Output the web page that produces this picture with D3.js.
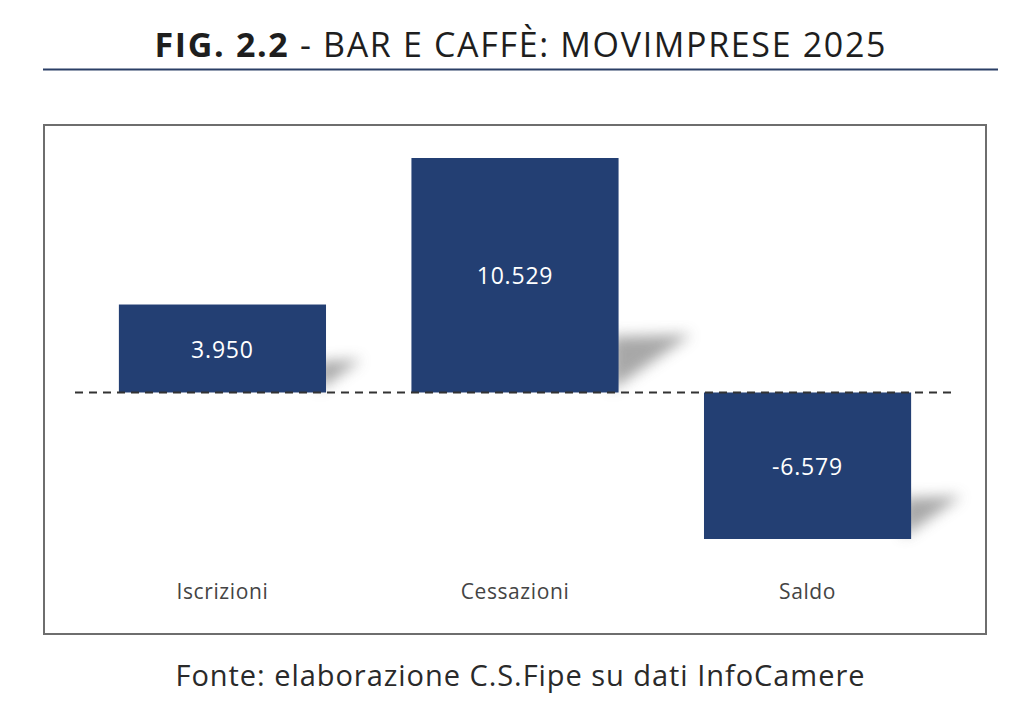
<!DOCTYPE html>
<html>
<head>
<meta charset="utf-8">
<script src="https://cdn.jsdelivr.net/npm/d3@7"></script>
<style>
  body { margin: 0; background: #fff; }
  svg { display: block; font-family: "Open Sans", "Noto Sans", sans-serif; }
</style>
</head>
<body>
<svg id="chart" width="1024" height="711"></svg>
<script>
const categories = ["Iscrizioni", "Cessazioni", "Saldo"];
const values = [3950, 10529, -6579];
const valueLabels = ["3.950", "10.529", "-6.579"];

const svg = d3.select("#chart");

// title
const title = svg.append("text")
  .attr("x", 520).attr("y", 57)
  .attr("text-anchor", "middle")
  .attr("font-size", 34)
  .attr("textLength", 731)
  .attr("lengthAdjust", "spacing")
  .attr("fill", "#1e1e1e");
title.append("tspan").attr("font-weight", 700).text("FIG. 2.2");
title.append("tspan").attr("font-weight", 400).text(" - BAR E CAFFÈ: MOVIMPRESE 2025");

svg.append("line") //rule under title
  .attr("x1", 43).attr("x2", 998)
  .attr("y1", 69.5).attr("y2", 69.5)
  .attr("stroke", "#2b3f66").attr("stroke-width", 2);

// frame
svg.append("rect")
  .attr("x", 44).attr("y", 125)
  .attr("width", 942).attr("height", 509)
  .attr("fill", "#fff")
  .attr("stroke", "#6e6e6e").attr("stroke-width", 2);

// shadow blur
const defs = svg.append("defs");
defs.append("filter").attr("id", "blur")
  .attr("x", "-50%").attr("y", "-50%").attr("width", "200%").attr("height", "200%")
  .append("feGaussianBlur").attr("stdDeviation", 7);

const x = d3.scaleBand()
  .domain(categories)
  .range([75, 955])
  .paddingInner(0.292)
  .paddingOuter(0.15);

const y = d3.scaleLinear()
  .domain([-6579, 10529])
  .range([539, 158]);

const data = categories.map((c, i) => ({ cat: c, v: values[i], label: valueLabels[i] }));

// shadows behind bars
svg.append("g").selectAll("path")
  .data(data)
  .enter()
  .append("path")
  .attr("fill", "#8a8a8a")
  .attr("opacity", 0.75)
  .attr("filter", "url(#blur)")
  .attr("d", d => {
    const h = Math.abs(y(d.v) - y(0));
    const hs = 14 + 0.17 * h;
    const ws = 1.5 * hs;
    const xr = x(d.cat) + x.bandwidth() - 8;
    const yb = Math.max(y(d.v), y(0)) - 2;
    return `M${xr},${yb - hs}L${xr + ws},${yb - hs - 2}L${xr},${yb}Z`;
  });

// bars
svg.append("g").selectAll("rect")
  .data(data)
  .enter()
  .append("rect")
  .attr("x", d => x(d.cat))
  .attr("width", x.bandwidth())
  .attr("y", d => Math.min(y(d.v), y(0)))
  .attr("height", d => Math.abs(y(d.v) - y(0)))
  .attr("fill", "#233f73");

// zero line
svg.append("line")
  .attr("x1", 75).attr("x2", 955)
  .attr("y1", y(0)).attr("y2", y(0))
  .attr("stroke", "#333").attr("stroke-width", 2)
  .attr("stroke-dasharray", "8,6");

// value labels
svg.append("g").selectAll("text")
  .data(data)
  .enter()
  .append("text")
  .attr("x", d => x(d.cat) + x.bandwidth() / 2)
  .attr("y", d => (y(d.v) + y(0)) / 2 + 9)
  .attr("text-anchor", "middle")
  .attr("font-size", 23)
  .attr("letter-spacing", 0.8)
  .attr("fill", "#fff")
  .text(d => d.label);

// category labels
svg.append("g").selectAll("text")
  .data(data)
  .enter()
  .append("text")
  .attr("x", d => x(d.cat) + x.bandwidth() / 2)
  .attr("y", 599)
  .attr("text-anchor", "middle")
  .attr("font-size", 21)
  .attr("letter-spacing", 0.6)
  .attr("fill", "#444")
  .text(d => d.cat);

// source
svg.append("text")
  .attr("x", 520).attr("y", 686)
  .attr("text-anchor", "middle")
  .attr("font-size", 29)
  .attr("textLength", 689)
  .attr("lengthAdjust", "spacing")
  .attr("fill", "#2a2a2a")
  .text("Fonte: elaborazione C.S.Fipe su dati InfoCamere");
</script>
</body>
</html>
